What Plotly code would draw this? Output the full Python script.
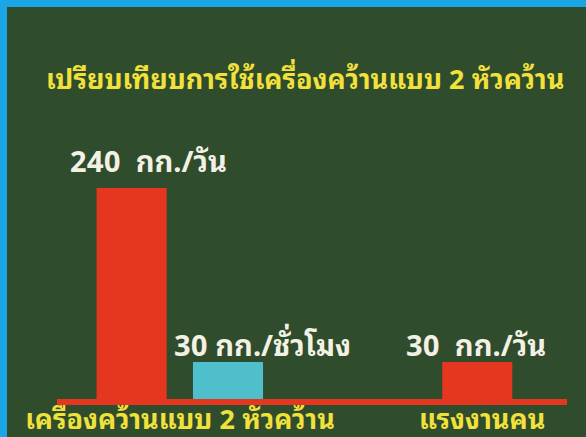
import numpy as np
import plotly.graph_objects as go

# ---- data ----
categories = ["เครื่องคว้านแบบ 2 หัวคว้าน", "แรงงานคน"]
per_day_values = [240, 30]          # red bars (kg / day)
per_hour_values = [30]              # cyan bar (kg / hour), machine only
per_day_labels = ["240  กก./วัน", "30  กก./วัน"]
per_hour_labels = ["30 กก./ชั่วโมง"]
title_text = "เปรียบเทียบการใช้เครื่องคว้านแบบ 2 หัวคว้าน"

# ---- style ----
W, H = 586, 437
ML, MR, MT, MB = 57, 19, 100, 35
PW, PH = W - ML - MR, H - MT - MB
RED = "#e5371f"
CYAN = "#4fbfcc"
YELLOW = "#f1e13a"
WHITE = "#f3f1e4"
GREEN = "#2f4c2d"
BLUE = "#1aa5e4"
FONT = "Noto Sans Thai Looped, Loma, Garuda, Noto Sans Thai, sans-serif"

xr = [-0.407, 1.281]
yr = [1.2695, 2.837]
bw = 0.232

fig = go.Figure()
fig.add_trace(go.Bar(
    x=categories, y=per_day_values, marker=dict(color=RED, line=dict(width=0)),
    width=bw, offset=[-0.276, -0.132], hoverinfo="skip"))
fig.add_trace(go.Bar(
    x=categories[:1], y=per_hour_values, marker=dict(color=CYAN, line=dict(width=0)),
    width=bw, offset=[0.043], hoverinfo="skip"))

def px2paper_x(px):
    return (px - ML) / PW

def px2paper_y(py):
    return (H - MB - py) / PH

shapes = [
    # blue frame, top and left
    dict(type="rect", xref="paper", yref="paper", layer="below",
         x0=px2paper_x(-20), x1=px2paper_x(W + 20), y0=px2paper_y(7), y1=px2paper_y(-20),
         fillcolor=BLUE, line=dict(width=0)),
    dict(type="rect", xref="paper", yref="paper", layer="below",
         x0=px2paper_x(-20), x1=px2paper_x(7), y0=px2paper_y(H + 20), y1=px2paper_y(-20),
         fillcolor=BLUE, line=dict(width=0)),
    # red baseline
    dict(type="line", xref="paper", yref="paper", layer="above",
         x0=0, x1=1, y0=0, y1=0, line=dict(color=RED, width=6)),
]

annotations = [
    dict(text=title_text, xref="paper", yref="paper", x=px2paper_x(305), y=px2paper_y(76),
         showarrow=False, xanchor="center", yanchor="middle",
         font=dict(family=FONT, size=27, color=YELLOW, weight="bold")),
]
# value labels
shifts_day = [(-31, 29), (-6, 19)]
for cat, v, lab, (dx, dy) in zip(categories, per_day_values, per_day_labels, shifts_day):
    annotations.append(dict(text=lab, x=cat, y=np.log10(v), xref="x", yref="y",
                            showarrow=False, xanchor="center", yanchor="middle",
                            xshift=dx, yshift=dy,
                            font=dict(family=FONT, size=29, color=WHITE, weight="bold")))
for cat, v, lab in zip(categories[:1], per_hour_values, per_hour_labels):
    annotations.append(dict(text=lab, x=cat, y=np.log10(v), xref="x", yref="y",
                            showarrow=False, xanchor="center", yanchor="middle",
                            xshift=83, yshift=19,
                            font=dict(family=FONT, size=29, color=WHITE, weight="bold")))

fig.update_layout(
    width=W, height=H,
    margin=dict(l=ML, r=MR, t=MT, b=MB, pad=0, autoexpand=False),
    paper_bgcolor=GREEN, plot_bgcolor="rgba(0,0,0,0)",
    barmode="overlay", showlegend=False,
    shapes=shapes, annotations=annotations,
    xaxis=dict(type="category", range=xr, showgrid=False, zeroline=False, showline=False,
               ticks="", ticklabelstandoff=-1, automargin=False,
               tickfont=dict(family=FONT, size=27, color=YELLOW, weight="bold"),
               fixedrange=True),
    yaxis=dict(type="log", range=yr, showgrid=False, zeroline=False, showline=False,
               showticklabels=False, ticks="", automargin=False, fixedrange=True),
)

fig.write_html("out.html", config={"displayModeBar": False})
